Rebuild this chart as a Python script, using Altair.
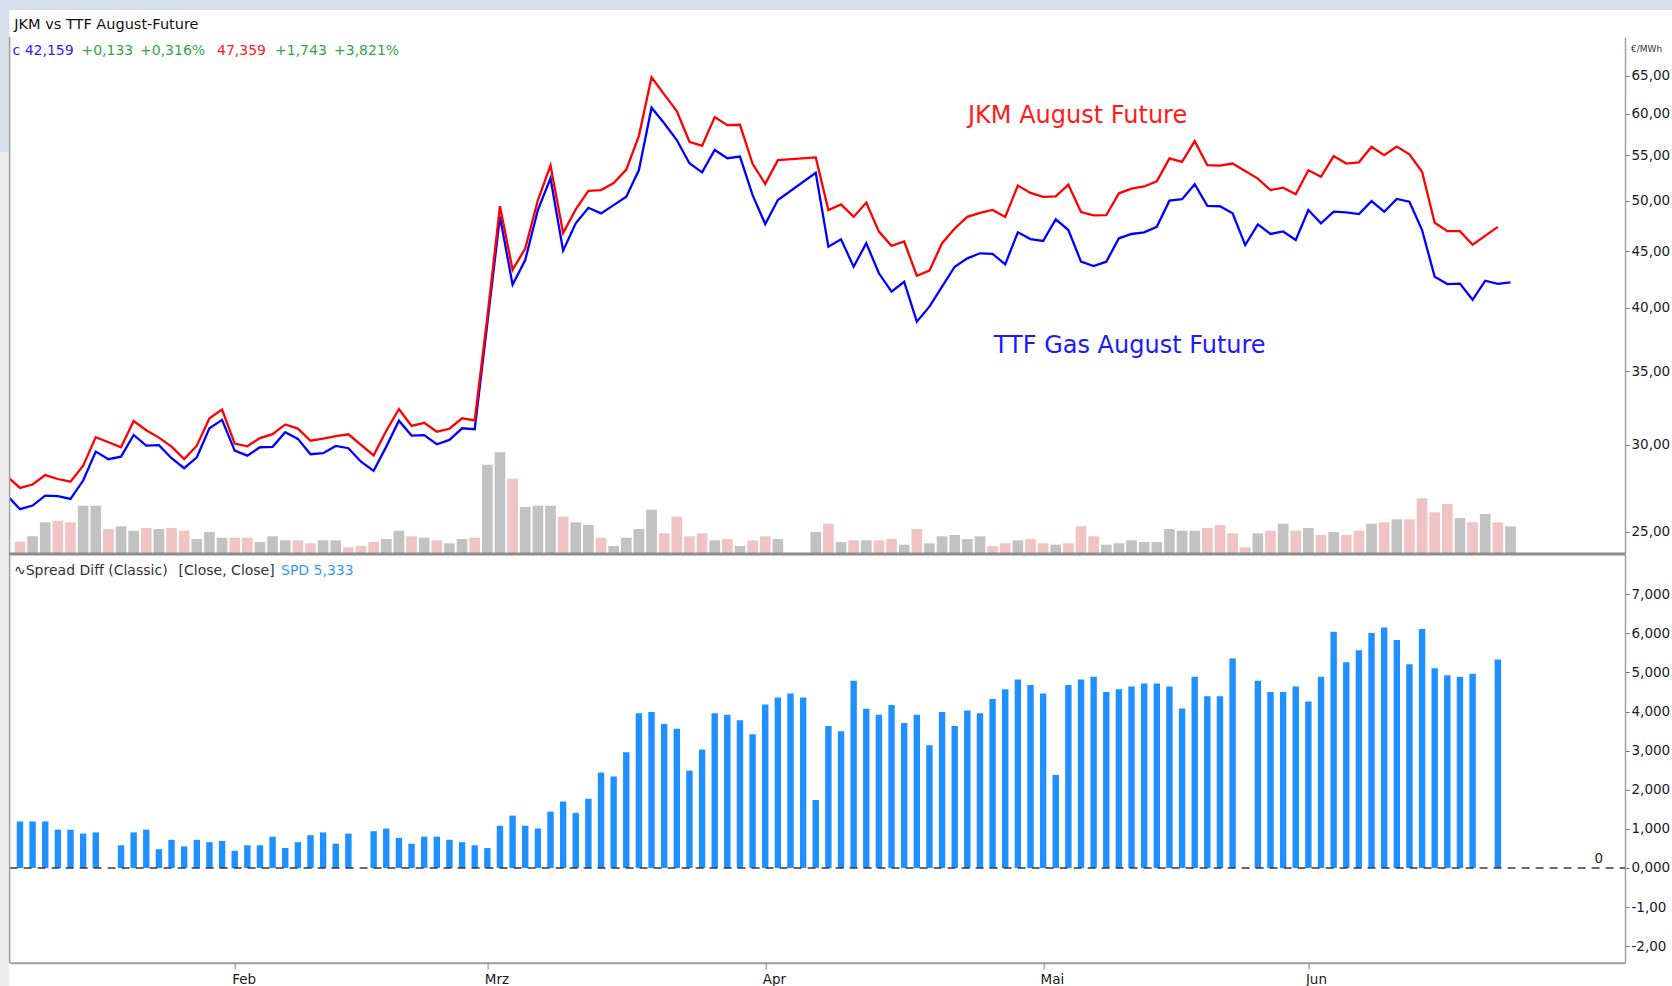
import altair as alt
import pandas as pd

FONT = "DejaVu Sans"

# ---------------- data ----------------
# trading-day slots; lines start one slot before the visible window
LINE_SLOTS = list(range(-1, 119))
BAR_SLOTS = list(range(0, 119))

TTF = [26.97,
       26.22, 26.42, 26.97, 26.95, 26.79, 27.84, 29.58, 29.11, 29.27, 30.63,
       29.95, 29.98, 29.17, 28.57, 29.23, 31.06, 31.61, 29.64, 29.33, 29.85,
       29.88, 30.80, 30.38, 29.42, 29.48, 29.93, 29.79, 28.96, 28.41, 29.89,
       31.56, 30.59, 30.62, 30.04, 30.31, 31.06, 31.00, 38.70, 48.38, 41.95,
       44.18, 49.06, 52.43, 45.05, 47.71, 49.29, 48.72, 49.57, 50.44, 53.35,
       60.79, 58.83, 56.81, 54.11, 53.09, 55.64, 54.68, 54.87, 50.62, 47.64,
       50.10, None, None, 53.04, 45.43, 46.14, 43.57, 45.76, 42.97, 41.35,
       42.22, 38.83, 40.07, 41.78, 43.57, 44.34, 44.81, 44.75, 43.79, 46.82,
       46.17, 45.98, 48.11, 47.05, 44.03, 43.63, 44.03, 46.24, 46.66, 46.82,
       47.37, 50.03, 50.18, 51.78, 49.50, 49.45, 48.72, 45.59, 47.61, 46.66,
       46.91, 46.07, 49.06, 47.71, 48.89, 48.82, 48.65, 49.99, 48.89, 50.21,
       49.92, 47.05, 42.66, 42.01, 42.05, 40.65, 42.31, 42.026, 42.159]

JKM = [28.07,
       27.41, 27.61, 28.16, 27.93, 27.77, 28.72, 30.49, None, 29.85, 31.54,
       30.93, 30.46, 29.89, 29.12, 29.95, 31.72, 32.30, 30.08, 29.91, 30.43,
       30.68, 31.31, 31.04, 30.26, 30.39, 30.55, 30.67, None, 29.35, 30.90,
       32.33, 31.21, 31.42, 30.84, 31.03, 31.72, 31.58, 39.21, 49.46, 43.29,
       45.26, 50.07, 53.87, 46.75, 49.12, 51.06, 51.16, 51.91, 53.40, 57.31,
       64.78, 62.51, 60.37, 56.60, 56.12, 59.60, 58.60, 58.65, 54.04, 51.82,
       54.46, None, None, 54.78, 49.06, 49.64, 48.36, 49.83, 46.89, 45.52,
       45.93, 42.75, 43.21, 45.77, 47.20, 48.37, 48.77, 49.07, 48.36, 51.64,
       50.85, 50.44, 50.49, 51.73, 48.85, 48.52, 48.53, 50.81, 51.30, 51.54,
       52.09, 54.67, 54.26, 56.67, 53.89, 53.84, 54.08, None, 52.40, 51.16,
       51.41, 50.71, 53.32, 52.60, 54.93, 54.08, 54.22, 56.00, 55.04, 56.04,
       55.13, 53.16, 47.77, 46.94, 46.94, 45.62, None, 47.359, None]

SPREAD = [1.19, 1.19, 1.19, 0.98, 0.98, 0.88, 0.91, None, 0.58, 0.91,
          0.98, 0.48, 0.72, 0.55, 0.72, 0.66, 0.69, 0.44, 0.58, 0.58,
          0.80, 0.51, 0.66, 0.84, 0.91, 0.62, 0.88, None, 0.94, 1.01,
          0.77, 0.62, 0.80, 0.80, 0.72, 0.66, 0.58, 0.51, 1.08, 1.34,
          1.08, 1.01, 1.44, 1.70, 1.41, 1.77, 2.44, 2.34, 2.96, 3.96,
          3.99, 3.68, 3.56, 2.49, 3.03, 3.96, 3.92, 3.78, 3.42, 4.18,
          4.36, 4.46, 4.36, 1.74, 3.63, 3.50, 4.79, 4.07, 3.92, 4.17,
          3.71, 3.92, 3.14, 3.99, 3.63, 4.03, 3.96, 4.32, 4.57, 4.82,
          4.68, 4.46, 2.38, 4.68, 4.82, 4.89, 4.50, 4.57, 4.64, 4.72,
          4.72, 4.64, 4.08, 4.89, 4.39, 4.39, 5.36, None, 4.79, 4.50,
          4.50, 4.64, 4.26, 4.89, 6.04, 5.26, 5.57, 6.01, 6.15, 5.83,
          5.21, 6.11, 5.11, 4.93, 4.89, 4.97, None, 5.333, None]

VOLUME = [12.3, 17.7, 31.7, 33.3, 31.7, 48.3, 48.3, 25.0, 27.7, 23.3,
          26.0, 25.0, 26.0, 23.3, 15.0, 22.0, 16.3, 16.3, 16.3, 12.0,
          17.7, 13.7, 13.7, 10.7, 13.7, 13.7, 6.7, 8.0, 12.0, 15.0,
          23.3, 17.7, 16.3, 13.7, 10.7, 15.0, 16.3, 89.3, 101.7, 75.3,
          47.0, 48.3, 48.3, 37.3, 31.7, 29.0, 16.3, 8.0, 16.3, 25.0,
          44.3, 20.7, 37.3, 17.7, 20.7, 13.7, 15.0, 8.0, 13.7, 17.7,
          15.0, None, None, 22.0, 30.3, 12.0, 13.7, 13.7, 13.7, 15.0,
          9.3, 25.0, 10.7, 17.7, 19.0, 15.0, 17.7, 8.0, 10.7, 13.7,
          15.0, 10.7, 9.3, 10.7, 27.7, 17.7, 9.3, 10.7, 13.7, 12.0,
          12.0, 25.0, 23.3, 23.3, 26.0, 29.0, 20.7, 6.7, 20.7, 23.3,
          30.3, 23.3, 26.0, 19.0, 22.0, 19.0, 23.3, 30.3, 31.7, 34.7,
          34.7, 55.7, 41.7, 50.0, 36.0, 31.7, 40.0, 31.7, 27.7]

# u = up day (grey volume bar), d = down day (pink volume bar)
VOL_DIR = ("duudduuduu" "dudduuuddu" "uudduudddu" "ududuuduud"
           "uuuduuduuu" "uddddududd" "u--udududd" "uduuuuuddu"
           "dduddduuuu" "uuuuddddud" "udududdudu" "ddddududu")

MONTH_SLOTS = [17, 37, 59, 81, 102]
MONTH_LABELS = ["Feb", "Mrz", "Apr", "Mai", "Jun"]
PRICE_TICKS = [25, 30, 35, 40, 45, 50, 55, 60, 65]
SPREAD_TICKS = [-2, -1, 0, 1, 2, 3, 4, 5, 6, 7]

# ---------------- layout ----------------
PAD_L, PAD_T, PAD_R, PAD_B = 9.6, 37, 47, 23
W = 1672 - PAD_L - PAD_R
H = 986 - PAD_T - PAD_B
SPLIT = 517
X_DOMAIN = [-0.425, 126.67]
PRICE_DOMAIN = [23.87, 70.49]
SPREAD_DOMAIN = [-2.43, 8.03]
VOL_DOMAIN = [0, 517]

line_rows = []
for name, series in (("TTF", TTF), ("JKM", JKM)):
    for s, v in zip(LINE_SLOTS, series):
        if v is not None:
            line_rows.append({"slot": s, "price": v, "series": name})
line_df = pd.DataFrame(line_rows)

vol_df = pd.DataFrame([{"slot": s, "vol": v, "dir": d}
                       for s, v, d in zip(BAR_SLOTS, VOLUME, VOL_DIR) if v is not None])
spread_df = pd.DataFrame([{"slot": s, "spd": v}
                          for s, v in zip(BAR_SLOTS, SPREAD) if v is not None])

ONE = alt.Data(values=[{}])

month_expr = " : ".join(f"datum.value == {s} ? '{m}'" for s, m in zip(MONTH_SLOTS, MONTH_LABELS)) + " : ''"
month_axis = alt.Axis(orient="bottom", values=MONTH_SLOTS, labelExpr=month_expr, tickSize=6,
                      tickColor="#808080", domainColor="#A0A0A0", domainWidth=1.5,
                      labelAlign="left", labelOffset=-3, labelFont=FONT, labelFontSize=13.5,
                      labelColor="#1a1a1a", labelPadding=3, grid=False, title=None,
                      labelFlush=False, labelOverlap=False)


def xenc():
    # every layer carries the same axis definition so the shared x axis is kept
    return alt.X("slot:Q", scale=alt.Scale(domain=X_DOMAIN, nice=False, zero=False), axis=month_axis)


# the reference's right-hand labels are cut at the window edge ("65,00", "7,000", "-1,00")
price_expr = "replace(format(datum.value, '.2f'), '.', ',')"
spread_expr = ("datum.value < 0 ? '-' + replace(format(abs(datum.value), '.2f'), '.', ',') "
               ": replace(format(datum.value, '.3f'), '.', ',')")

price_axis = alt.Axis(orient="right", values=PRICE_TICKS, labelExpr=price_expr, tickSize=4,
                      tickColor="#707070", domainColor="#A0A0A0", domainWidth=1.5,
                      labelFont=FONT, labelFontSize=13.5, labelColor="#1a1a2a", labelPadding=2,
                      grid=False, title=None, labelFlush=False, labelOverlap=False)
spread_axis = alt.Axis(orient="right", values=SPREAD_TICKS, labelExpr=spread_expr, tickSize=4,
                       tickColor="#707070", domainColor="#A0A0A0", domainWidth=1.5,
                       labelFont=FONT, labelFontSize=13.5, labelColor="#1a1a2a", labelPadding=2,
                       grid=False, title=None, labelFlush=False, labelOverlap=False)

# backgrounds
bg_top = alt.Chart(ONE).mark_rect(color="#D6E0EA").encode(
    x=alt.value(-PAD_L), x2=alt.value(W + PAD_R), y=alt.value(-PAD_T), y2=alt.value(-PAD_T + 10))
bg_left1 = alt.Chart(ONE).mark_rect(color="#D6E0EA").encode(
    x=alt.value(-PAD_L), x2=alt.value(-0.3), y=alt.value(-PAD_T), y2=alt.value(115))
bg_left2 = alt.Chart(ONE).mark_rect(color="#EEEEEE").encode(
    x=alt.value(-PAD_L), x2=alt.value(-0.3), y=alt.value(115), y2=alt.value(H + PAD_B))

vol = alt.Chart(vol_df).mark_bar(size=10.7).encode(
    x=xenc(),
    y=alt.Y("vol:Q", scale=alt.Scale(domain=VOL_DOMAIN, range=[SPLIT, 0], nice=False), axis=None),
    color=alt.Color("dir:N", scale=alt.Scale(domain=["u", "d"], range=["#C2C2C2", "#F0C4C4"]), legend=None),
)

spread_bars = alt.Chart(spread_df).mark_bar(size=6.4, color="#1E90FF").encode(
    x=xenc(),
    y=alt.Y("spd:Q", scale=alt.Scale(domain=SPREAD_DOMAIN, range=[H, SPLIT], nice=False, zero=False),
            axis=spread_axis),
)
zero_rule = alt.Chart(ONE).mark_rule(strokeDash=[8, 6], color="#3a3a3a", strokeWidth=1.4).encode(
    x=alt.value(0), x2=alt.value(W), y=alt.datum(0))
spread_layer = alt.layer(spread_bars, zero_rule)

lines = alt.Chart(line_df).mark_line(strokeWidth=2.3, clip=True).encode(
    x=xenc(),
    y=alt.Y("price:Q", scale=alt.Scale(type="log", domain=PRICE_DOMAIN, range=[SPLIT, 0], nice=False, zero=False),
            axis=price_axis),
    color=alt.Color("series:N", scale=alt.Scale(domain=["TTF", "JKM"], range=["#0000FF", "#FF0000"]), legend=None),
)

left_border = alt.Chart(ONE).mark_rule(color="#A0A0A0", strokeWidth=1.5).encode(
    x=alt.value(0), y=alt.value(0), y2=alt.value(H))
bottom_border = alt.Chart(ONE).mark_rule(color="#A0A0A0", strokeWidth=1.5).encode(
    x=alt.value(0), x2=alt.value(W), y=alt.value(H))
separator = alt.Chart(ONE).mark_rule(color="#8C8C8C", strokeWidth=3).encode(
    x=alt.value(0), x2=alt.value(W), y=alt.value(SPLIT))


def label(text, x, y, color, size, font=FONT, align="left"):
    return alt.Chart(ONE).mark_text(text=text, align=align, baseline="alphabetic", color=color,
                                    fontSize=size, font=font).encode(x=alt.value(x), y=alt.value(y))


GREEN = "#2FA844"
texts = [
    label("JKM vs TTF August-Future", 4.7, -8, "#111111", 14.5),
    label("c 42,159", 2.9, 18, "#2626FF", 14),
    label("+0,133", 71.8, 18, GREEN, 14),
    label("+0,316%", 130.4, 18, GREEN, 14),
    label("47,359", 207.4, 18, "#FF2020", 14),
    label("+1,743", 265.4, 18, GREEN, 14),
    label("+3,821%", 324.4, 18, GREEN, 14),
    label("€/MWh", 1621.4, 15, "#333333", 9),
    label("JKM August Future", 958.4, 86.3, "#FF1A1A", 24),
    label("TTF Gas August Future", 984.2, 316.3, "#1A1AFF", 24),
    label("∿Spread Diff (Classic)", 4.4, 538, "#333333", 14),
    label("[Close, Close]", 169, 538, "#333333", 14),
    label("SPD 5,333", 271.4, 538, "#3399FF", 14),
    label("0", 1589.3, 826, "#222222", 13.5, align="center"),
]

chart = alt.layer(
    bg_top, bg_left1, bg_left2, vol, spread_layer, lines, left_border, bottom_border, separator, *texts
).resolve_scale(y="independent", color="independent").resolve_axis(y="independent").properties(
    width=W, height=H,
    autosize=alt.AutoSizeParams(type="none"),
    padding={"left": PAD_L, "top": PAD_T, "right": PAD_R, "bottom": PAD_B},
    background="white",
).configure_view(stroke=None)

chart.save("out.html", embed_options={"renderer": "svg", "actions": False})
